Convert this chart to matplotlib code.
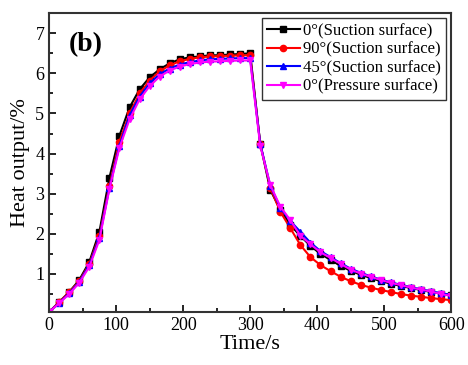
import numpy as np
from matplotlib import pyplot as plt
from matplotlib.ticker import MultipleLocator

plt.rcParams['font.family'] = ['Liberation Serif', 'DejaVu Serif']

# time points, every 15 s
t = np.arange(0, 601, 15)

suction_0 = [0.05, 0.30, 0.55, 0.85, 1.30, 2.05, 3.40, 4.45, 5.15, 5.60, 5.90,
             6.10, 6.25, 6.35, 6.40, 6.42, 6.45, 6.45, 6.47, 6.48, 6.50,
             4.25, 3.10, 2.60, 2.22, 1.95, 1.70, 1.50, 1.35, 1.20, 1.08,
             0.98, 0.90, 0.82, 0.76, 0.70, 0.65, 0.60, 0.55, 0.51, 0.47]
suction_90 = [0.05, 0.30, 0.55, 0.82, 1.25, 1.95, 3.20, 4.30, 5.00, 5.50, 5.82,
              6.05, 6.20, 6.30, 6.36, 6.40, 6.42, 6.43, 6.44, 6.45, 6.45,
              4.25, 3.15, 2.55, 2.14, 1.72, 1.42, 1.22, 1.07, 0.93, 0.82,
              0.73, 0.66, 0.60, 0.55, 0.50, 0.46, 0.43, 0.40, 0.37, 0.35]
suction_45 = [0.05, 0.28, 0.52, 0.80, 1.22, 1.90, 3.15, 4.20, 4.95, 5.42, 5.75,
              5.98, 6.12, 6.22, 6.28, 6.32, 6.35, 6.36, 6.37, 6.38, 6.38,
              4.25, 3.20, 2.65, 2.32, 2.05, 1.78, 1.57, 1.42, 1.27, 1.13,
              1.03, 0.94, 0.86, 0.79, 0.73, 0.67, 0.62, 0.57, 0.52, 0.48]
pressure_0 = [0.05, 0.27, 0.50, 0.78, 1.18, 1.85, 3.12, 4.15, 4.85, 5.35, 5.68,
              5.92, 6.07, 6.17, 6.23, 6.27, 6.29, 6.30, 6.31, 6.32, 6.32,
              4.20, 3.22, 2.68, 2.34, 1.95, 1.74, 1.54, 1.40, 1.25, 1.11,
              1.01, 0.93, 0.85, 0.78, 0.72, 0.66, 0.61, 0.56, 0.50, 0.45]

series = [
    (suction_0, '0°(Suction surface)', 'black', 's'),
    (suction_90, '90°(Suction surface)', 'red', 'o'),
    (suction_45, '45°(Suction surface)', 'blue', '^'),
    (pressure_0, '0°(Pressure surface)', 'magenta', 'v'),
]

fig = plt.figure(figsize=(4.68, 3.65), dpi=100)
ax = fig.add_axes([0.105, 0.145, 0.859, 0.819])

for y, label, color, marker in series:
    ax.plot(t, y, color=color, marker=marker, markersize=4.5, linewidth=1.5, label=label)

ax.set_xlim(0, 600)
ax.set_ylim(0.05, 7.5)
ax.xaxis.set_major_locator(MultipleLocator(100))
ax.xaxis.set_minor_locator(MultipleLocator(50))
ax.yaxis.set_major_locator(MultipleLocator(1))
ax.yaxis.set_minor_locator(MultipleLocator(0.5))
ax.tick_params(which='both', direction='in', labelsize=13, width=1.2)
ax.tick_params(which='major', length=5)
ax.tick_params(which='minor', length=3)
for s in ax.spines.values():
    s.set_linewidth(1.5)
    s.set_color('#333333')

ax.set_xlabel('Time/s', fontsize=16, labelpad=1)
ax.set_ylabel('Heat output/%', fontsize=16, labelpad=4)
ax.text(0.05, 0.935, '(b)', transform=ax.transAxes, fontsize=20,
        fontweight='bold', va='top')

leg = ax.legend(loc='upper right', fontsize=12, frameon=True, fancybox=False,
                edgecolor='black', borderpad=0.3, labelspacing=0.15,
                handlelength=2.0, handletextpad=0.2, borderaxespad=0.3)
leg.get_frame().set_linewidth(1.0)

plt.savefig('out.png', dpi=100)
plt.close()
